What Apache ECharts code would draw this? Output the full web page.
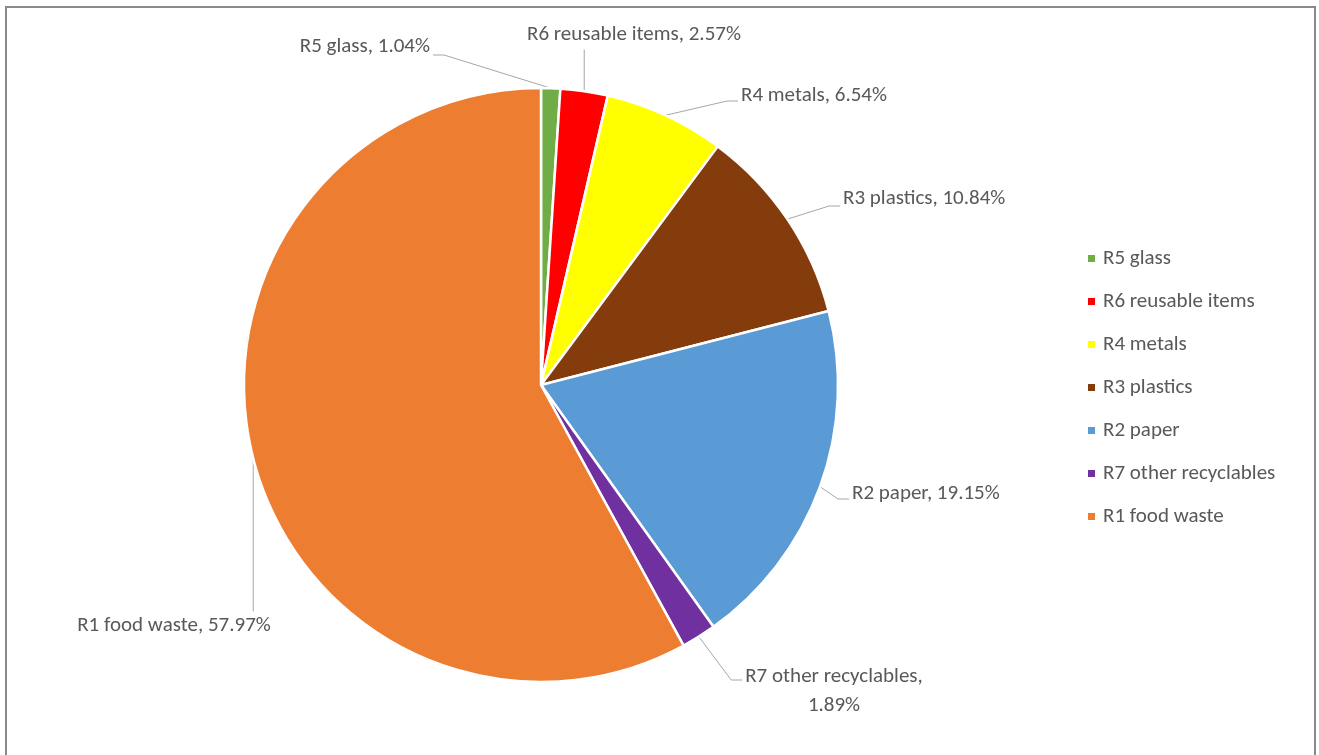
<!DOCTYPE html>
<html>
<head>
<meta charset="utf-8">
<script src="https://cdn.jsdelivr.net/npm/echarts@6/dist/echarts.min.js"></script>
<style>
html,body{margin:0;padding:0;background:#fff;overflow:hidden;}
#frame{position:absolute;left:5px;top:6px;width:1307px;height:800px;border:2px solid #898989;box-sizing:content-box;}
#chart{position:absolute;left:0;top:0;width:1319px;height:755px;}
</style>
</head>
<body>
<div id="frame"></div>
<div id="chart"></div>
<script>
const categories = ['R5 glass','R6 reusable items','R4 metals','R3 plastics','R2 paper','R7 other recyclables','R1 food waste'];
const values = [1.04, 2.57, 6.54, 10.84, 19.15, 1.89, 57.97];
const colors = ['#70AD47','#FF0000','#FFFF00','#843C0C','#5B9BD5','#7030A0','#ED7D31'];

// label anchor layout (pixels): x, y, align, leader end y
const labelPlace = [
  {x:430, y:47, align:'right', lineY:55},
  {x:527, y:35, align:'left', lineY:null},
  {x:741, y:96, align:'left', lineY:101},
  {x:843, y:199, align:'left', lineY:206},
  {x:852, y:494, align:'left', lineY:499},
  {x:834, y:691, align:'center', lineY:680},
  {x:174, y:626, align:'center', lineY:null}
];

const CX = 541, CY = 385, R = 297;
const total = values.reduce((a, b) => a + b, 0);
const midAngles = [];
(function(){ let acc = 0; values.forEach(v => { midAngles.push((acc + v / 2) / total * 2 * Math.PI); acc += v; }); })();

const chart = echarts.init(document.getElementById('chart'));
const font = 'Carlito, Calibri, "Liberation Sans", sans-serif';
chart.setOption({
  animation:false,
  color: colors,
  legend:{
    orient:'vertical', left:1081, top:243,
    itemWidth:9, itemHeight:9, itemGap:22, icon:'rect',
    textStyle:{color:'#595959', fontSize:21, fontFamily:font, lineHeight:20, padding:[0,0,0,2]},
    data: categories
  },
  series:[{
    type:'pie',
    center:[CX, CY],
    radius:[0, R],
    startAngle:90,
    clockwise:true,
    itemStyle:{borderColor:'#fff', borderWidth:2.5},
    label:{
      show:true,
      formatter: p => p.name === 'R7 other recyclables' ? p.name + ',\n' + p.value.toFixed(2) + '%' : p.name + ', ' + p.value.toFixed(2) + '%',
      color:'#595959', fontSize:21, fontFamily:font, lineHeight:29
    },
    labelLine:{show:true, lineStyle:{color:'#a6a6a6', width:1}},
    labelLayout: function(params){
      const i = params.dataIndex, p = labelPlace[i];
      const w = params.labelRect.width, h = params.labelRect.height;
      const left = p.align === 'right' ? p.x - w : (p.align === 'center' ? p.x - w / 2 : p.x);
      const right = left + w, top = p.y - h / 2, bottom = p.y + h / 2;
      const a = midAngles[i];
      const sx = CX + R * Math.sin(a), sy = CY - R * Math.cos(a);
      let pts;
      if (sx >= left && sx <= right) {
        const ey = sy < top ? top : bottom;
        pts = [[sx, sy], [sx, ey]];
      } else {
        const dir = sx < left ? 1 : -1;
        const ex = dir > 0 ? left - 3 : right + 3;
        pts = [[sx, sy], [ex - dir * 11, p.lineY], [ex, p.lineY]];
      }
      return {x:p.x, y:p.y, align:p.align, verticalAlign:'middle', labelLinePoints:pts};
    },
    data: categories.map((c, i) => ({name:c, value:values[i]}))
  }]
});
</script>
</body>
</html>
